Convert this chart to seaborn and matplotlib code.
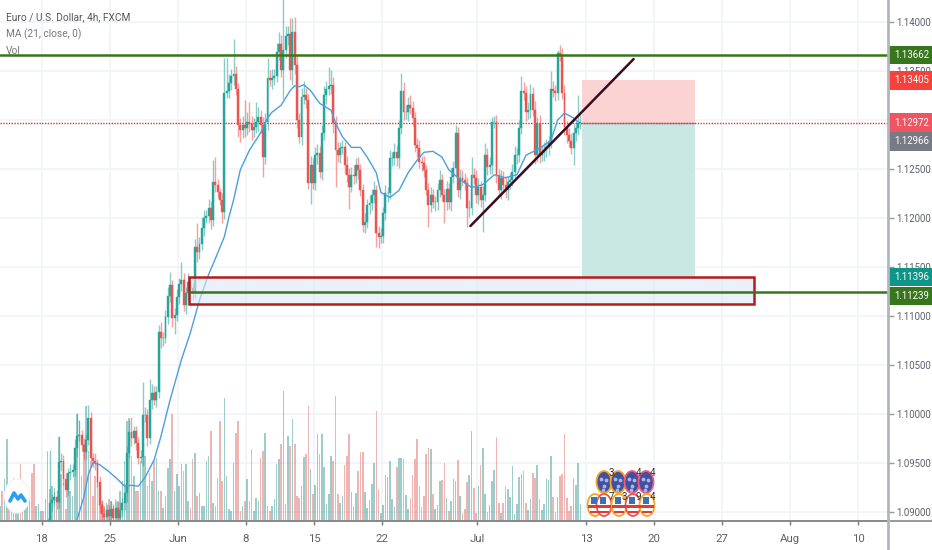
import matplotlib
matplotlib.use('Agg')

import pandas as pd
import seaborn as sns
import matplotlib.pyplot as plt
from matplotlib.patches import Rectangle, Ellipse

# ---------- data: EURUSD 4h ----------
base_price = 1.09  # the pip lists below are pips above this

close_pips = [
    -30, -34, -28, -25, -31, -36, -33, -27, -24, -29,
    -35, -32, -26, -22, -25, -30, -28, -24, -20, -23,
    -19, -14, 9, 12, 15, 10, 51, 52, 33, 22,
    40, 41, 43, 65, 77, 78, 68, 61, 73, 96,
    55, 52, 50, 30, 7, -2, -5, 2, -4, 3,
    -6, 4, -6, 2, 9, 19, 60, 81, 75, 82,
    70, 55, 56, 99, 99, 75, 114, 121, 114, 122,
    183, 177, 177, 199, 220, 231, 198, 201, 219, 233,
    237, 211, 223, 235, 228, 224, 270, 265, 273, 290,
    300, 302, 310, 298, 337, 334, 326, 318, 306, 428,
    430, 438, 445, 447, 432, 395, 390, 395, 392, 398,
    396, 390, 393, 398, 403, 395, 362, 398, 443, 441,
    443, 445, 469, 478, 451, 471, 486, 488, 451, 490,
    456, 400, 383, 423, 425, 420, 336, 354, 336, 364,
    366, 347, 387, 425, 432, 435, 436, 397, 369, 364,
    371, 372, 354, 344, 332, 344, 343, 354, 349, 328,
    293, 296, 313, 315, 323, 328, 285, 280, 282, 305,
    325, 325, 361, 361, 367, 361, 392, 430, 408, 408,
    415, 412, 402, 374, 371, 357, 356, 349, 328, 313,
    323, 316, 316, 328, 339, 323, 316, 330, 316, 342,
    351, 387, 328, 341, 339, 336, 310, 310, 344, 341,
    323, 332, 318, 323, 364, 352, 354, 398, 398, 344,
    328, 341, 334, 328, 337, 339, 347, 364, 364, 392,
    430, 428, 408, 410, 427, 410, 364, 397, 364, 367,
    369, 372, 377, 432, 430, 428, 468, 466, 428, 393,
    385, 379, 371, 387, 392, 397, 398,
]
upper_wick = [
    6, 5, 7, 4, 6, 5, 8, 4, 6, 5,
    7, 4, 6, 5, 8, 5, 6, 4, 7, 5,
    6, 8, 54, 6, 5, 7, 26, 8, 6, 7,
    5, 8, 6, 9, 24, 16, 5, 7, 6, 13,
    6, 5, 8, 4, 6, 5, 7, 6, 5, 8,
    5, 7, 6, 8, 5, 9, 7, 13, 16, 6,
    5, 6, 7, 33, 8, 6, 22, 9, 7, 6,
    8, 11, 6, 7, 9, 14, 6, 7, 8, 6,
    18, 7, 6, 9, 5, 6, 8, 25, 7, 11,
    8, 6, 9, 7, 22, 25, 6, 5, 7, 35,
    33, 9, 7, 36, 8, 6, 7, 9, 25, 10,
    20, 8, 9, 20, 10, 7, 8, 9, 20, 8,
    9, 7, 10, 12, 9, 55, 10, 8, 16, 14,
    15, 9, 7, 10, 15, 8, 7, 9, 7, 8,
    9, 7, 8, 10, 8, 19, 15, 8, 7, 9,
    7, 8, 6, 9, 7, 8, 10, 7, 8, 6,
    7, 9, 6, 8, 7, 10, 6, 7, 8, 6,
    9, 7, 8, 6, 9, 7, 8, 18, 9, 7,
    8, 10, 7, 6, 8, 9, 6, 7, 5, 8,
    9, 7, 6, 8, 10, 6, 7, 8, 6, 9,
    7, 8, 6, 9, 8, 7, 6, 8, 18, 7,
    8, 9, 6, 10, 12, 7, 8, 5, 6, 7,
    6, 8, 7, 9, 6, 7, 8, 9, 7, 8,
    15, 9, 7, 8, 10, 7, 9, 6, 8, 7,
    8, 9, 7, 18, 8, 6, 3, 9, 7, 8,
    6, 7, 8, 9, 7, 29, 8,
]
lower_wick = [
    6, 4, 7, 5, 6, 8, 5, 6, 4, 7,
    5, 8, 6, 4, 7, 5, 6, 8, 5, 6,
    7, 5, 6, 8, 5, 7, 6, 9, 6, 7,
    5, 8, 6, 7, 9, 5, 6, 8, 7, 5,
    9, 6, 7, 5, 8, 6, 7, 5, 9, 6,
    7, 5, 6, 8, 6, 7, 9, 5, 8, 6,
    7, 6, 5, 9, 7, 8, 6, 9, 5, 7,
    6, 10, 8, 5, 7, 6, 9, 17, 6, 7,
    8, 6, 9, 7, 5, 8, 6, 10, 7, 6,
    8, 5, 7, 9, 6, 8, 6, 5, 11, 7,
    6, 8, 7, 9, 6, 12, 12, 8, 9, 7,
    8, 10, 7, 6, 9, 8, 20, 7, 8, 6,
    9, 7, 6, 8, 7, 30, 8, 9, 10, 15,
    9, 8, 7, 9, 7, 8, 6, 22, 7, 8,
    9, 6, 8, 7, 9, 6, 8, 10, 37, 7,
    8, 6, 9, 7, 23, 6, 8, 7, 9, 6,
    7, 8, 6, 9, 7, 8, 15, 11, 6, 8,
    7, 9, 6, 8, 7, 8, 10, 6, 8, 7,
    9, 6, 8, 7, 9, 6, 8, 7, 5, 22,
    7, 6, 9, 8, 7, 6, 21, 8, 7, 9,
    6, 8, 7, 9, 6, 8, 19, 9, 7, 6,
    8, 9, 7, 32, 6, 8, 7, 9, 6, 8,
    7, 9, 6, 8, 10, 7, 6, 8, 9, 7,
    6, 8, 9, 7, 8, 6, 9, 7, 8, 6,
    9, 7, 8, 6, 7, 9, 8, 6, 7, 8,
    9, 7, 6, 17, 8, 7, 6,
]
volume = [
    15, 30, 42, 82, 25, 10, 43, 17, 37, 57,
    20, 25, 15, 27, 48, 57, 15, 17, 10, 10,
    22, 70, 32, 35, 33, 20, 84, 47, 38, 12,
    35, 30, 25, 60, 107, 100, 45, 77, 115, 70,
    60, 25, 45, 55, 35, 20, 15, 18, 22, 20,
    15, 22, 20, 30, 40, 60, 100, 103, 65, 45,
    30, 30, 60, 85, 65, 35, 48, 40, 60, 63,
    30, 30, 13, 25, 53, 62, 107, 30, 47, 35,
    57, 50, 57, 20, 13, 62, 68, 25, 28, 15,
    15, 60, 65, 90, 18, 15, 43, 100, 40, 123,
    45, 12, 10, 58, 88, 100, 10, 15, 20, 42,
    20, 72, 10, 23, 20, 63, 70, 88, 15, 10,
    15, 22, 57, 62, 77, 130, 17, 85, 75, 102,
    77, 25, 23, 35, 64, 67, 115, 52, 27, 36,
    87, 67, 87, 54, 17, 27, 65, 60, 125, 27,
    18, 25, 56, 65, 87, 29, 15, 28, 50, 69,
    69, 29, 13, 21, 37, 58, 110, 32, 8, 16,
    46, 44, 60, 22, 14, 54, 63, 63, 62, 26,
    12, 22, 46, 62, 82, 35, 14, 25, 67, 73,
    72, 27, 12, 16, 40, 41, 58, 23, 10, 20,
    42, 40, 61, 25, 8, 12, 39, 46, 90, 33,
    8, 35, 56, 73, 27, 9, 16, 40, 51, 84,
    18, 8, 18, 35, 32, 24, 55, 7, 17, 44,
    47, 50, 18, 11, 22, 48, 43, 56, 22, 11,
    17, 42, 41, 65, 24, 9, 24, 45, 47, 87,
    23, 10, 15, 43, 36, 58, 17,
]
ma_bar = [
    34, 37, 39, 41, 44, 48, 51, 55, 58, 61, 64, 68, 71, 75, 80, 84, 88, 92,
    96, 99, 101, 103, 106, 110, 115, 118, 120, 124, 128, 130, 132, 134, 137,
    141, 146, 148, 151, 155, 159, 162, 166, 168, 172, 176, 180, 184, 187,
    191, 195, 198, 203, 208, 213, 218, 223, 228, 232, 238, 243, 246, 249,
    253, 255,
]
ma_pips = [
    -8, 15, 38, 50, 48, 41, 35, 26, 27, 26, 35, 53, 77, 114, 155, 183, 216, 242,
    264, 281, 301, 318, 349, 369, 387, 402, 408, 415, 430, 435, 434, 436, 430,
    417, 410, 397, 383, 372, 372, 362, 346, 326, 321, 328, 346, 359, 367,
    368, 362, 349, 339, 331, 334, 344, 341, 344, 364, 371, 379, 400, 407,
    402, 398,
]

price_ticks = [1.09, 1.095, 1.10, 1.105, 1.11, 1.115, 1.12, 1.125, 1.13, 1.135, 1.14]
price_labels = ['1.09000', '1.09500', '1.10000', '1.10500', '1.11000', '1.11500',
                '1.12000', '1.12500', '', '1.13500', '1.14000']  # 1.13000 is under a tag
date_ticks = [18.5, 48.5, 78.5, 108.5, 138.5, 168.5, 210.5, 258.5, 288.5, 318.5, 348.5, 378.5]
date_labels = ['18', '25', 'Jun', '8', '15', '22', 'Jul', '13', '20', '27', 'Aug', '10']

# drawings on the chart
resistance = 1.13662
support = 1.11239
last_price = 1.12972
zone_bars = [83.5, 332.5]
zone_prices = [1.11125, 1.11395]
trade_bars = [256.7, 306.5]
stop_price, entry_price, target_price = 1.13405, 1.12972, 1.11396
trend_bars = [207.5, 279.5]
trend_prices = [1.11917, 1.13622]

# price tags on the right scale
tag_prices = [1.13662, 1.13405, 1.12972, 1.12966, 1.11396, 1.11239]
tag_shift = [0, 0, 0, -0.00185, 0.00002, -0.00035]
tag_colors = ['#38761d', '#f8413a', '#ef5560', '#787b86', '#0f9488', '#38761d']

# ---------- figure ----------
sns.set_theme(style='white')
plt.rcParams['font.family'] = ['Roboto', 'DejaVu Sans']

up_color = '#26a69a'
down_color = '#ef5350'
grid_color = '#f0f3fa'
text_color = '#5d606b'

bars = pd.DataFrame({'bar': range(len(close_pips)), 'close': close_pips,
                     'upper': upper_wick, 'lower': lower_wick, 'volume': volume})
bars['close'] = base_price + bars['close'] / 10000
bars['open'] = bars['close'].shift(1).fillna(bars['close'])
bars['top'] = bars[['open', 'close']].max(axis=1)
bars['bottom'] = bars[['open', 'close']].min(axis=1)
bars['high'] = bars['top'] + bars['upper'] / 10000
bars['low'] = bars['bottom'] - bars['lower'] / 10000
bars['side'] = ['up' if c >= o else 'down' for c, o in zip(bars['close'], bars['open'])]

fig = plt.figure(figsize=(9.32, 5.5), dpi=100)
vol_ax = fig.add_axes([0, 29 / 550, 888 / 932, 521 / 550])
ax = vol_ax.twinx()

# volume bars sit underneath the candles
sns.barplot(data=bars, x='bar', y='volume', hue='side', hue_order=['up', 'down'],
            palette={'up': up_color, 'down': down_color}, native_scale=True, dodge=False,
            width=0.7, alpha=0.48, linewidth=0, legend=False, ax=vol_ax)
vol_ax.set_xlim(0, 888 / 2.267)
vol_ax.set_ylim(0, 521)
vol_ax.set_xlabel('')
vol_ax.set_ylabel('')
vol_ax.set_yticks([])
vol_ax.set_xticks(date_ticks)
vol_ax.set_xticklabels(date_labels, fontsize=8.2, color=text_color)
vol_ax.tick_params(axis='x', length=3, width=1, color='#777777', pad=6, bottom=True)
for t in date_ticks:
    vol_ax.axvline(t, color=grid_color, lw=1.2, zorder=0)
for p in price_ticks:
    vol_ax.axhline((p - 1.08905) * 9794, color=grid_color, lw=1.2, zorder=0)

# candles
ax.set_xlim(0, 888 / 2.267)
ax.set_ylim(1.08905, 1.14225)
colors = [up_color if s == 'up' else down_color for s in bars['side']]
ax.vlines(bars['bar'], bars['low'], bars['high'], colors=colors, lw=1, alpha=0.55, zorder=3)
ax.bar(bars['bar'], bars['top'] - bars['bottom'], bottom=bars['bottom'], width=0.85,
       color=colors, linewidth=0.3, edgecolor=colors, zorder=4)

sns.lineplot(x=ma_bar, y=[base_price + v / 10000 for v in ma_pips], color='#4a9fe0', lw=1,
             errorbar=None, ax=ax, zorder=5)
ax.set_xlabel('')
ax.set_ylabel('')

# position box, zone and lines
ax.add_patch(Rectangle((trade_bars[0], entry_price), trade_bars[1] - trade_bars[0],
                       stop_price - entry_price, fc='#fbd3d3', ec='none', zorder=2))
ax.add_patch(Rectangle((trade_bars[0], target_price), trade_bars[1] - trade_bars[0],
                       entry_price - target_price, fc='#c9e8e4', ec='none', zorder=2))
ax.plot(trade_bars, [entry_price, entry_price], color='#9a9a9a', lw=1, zorder=2)
ax.add_patch(Rectangle((zone_bars[0], zone_prices[0]), zone_bars[1] - zone_bars[0],
                       zone_prices[1] - zone_prices[0], fc=(0.87, 0.91, 0.96, 0.6),
                       ec='#b71c1c', lw=1.8, zorder=6))
ax.plot(zone_bars[:1] + [392], [support, support], color='#38761d', lw=1.8, zorder=7)
ax.plot([0, 392], [resistance, resistance], color='#38761d', lw=1.8, zorder=7)
ax.plot([0, 392], [last_price, last_price], color='#e8302a', lw=1, ls=(0, (1, 1)), zorder=2)
ax.plot(trend_bars, trend_prices, color='#3d0a22', lw=1.8, zorder=7)

# right scale
ax.set_yticks(price_ticks)
ax.set_yticklabels(price_labels, fontsize=6.9, color=text_color)
ax.tick_params(axis='y', length=4, width=1, color='#999999', pad=2, right=True)
ax.tick_params(axis='x', bottom=False, labelbottom=False)
for a in (ax, vol_ax):
    for name in ('top', 'left', 'right'):
        a.spines[name].set_visible(False)
    a.spines['bottom'].set_color('#888888')
    a.spines['bottom'].set_linewidth(1.2)

trans = ax.get_yaxis_transform()
for price, shift, col in zip(tag_prices, tag_shift, tag_colors):
    y = price + shift
    ax.add_patch(Rectangle((1, y - 0.00095), 44 / 888, 0.0019, transform=trans, fc=col,
                           ec='none', clip_on=False, zorder=10))
    ax.text(1 + 6 / 888, y, f'{price:.5f}', transform=trans, va='center', ha='left',
            fontsize=6.9, color='white', clip_on=False, zorder=11)

# overlay in pixel space for legend text and the small icons
over = fig.add_axes([0, 0, 1, 1], facecolor='none')
over.set_xlim(0, 932)
over.set_ylim(550, 0)
over.axis('off')
over.plot([888, 888], [0, 550], color='#b2b5be', lw=2, zorder=9)
over.plot([888, 932], [521, 521], color='#888888', lw=1.2)
over.text(6, 17, 'Euro / U.S. Dollar, 4h, FXCM', fontsize=7.3, color='#555555', va='center')
over.text(6, 34, 'MA (21, close, 0)', fontsize=7.3, color='#777777', va='center')
over.text(6, 51, 'Vol', fontsize=7.3, color='#777777', va='center')

# logo
over.add_patch(Ellipse((17, 496), 25, 34, fc='white', ec='#f2f2f2', lw=0.8, zorder=6))
over.plot([10, 14, 18, 21, 25], [501, 493, 499, 495, 501], color='#2a9df4', lw=2.6, zorder=7)

# economic event icons
for x, ring in zip([604, 618, 632, 646], ['#f5a623', '#f5a623', '#ef5a7a', '#ef5a7a']):
    over.add_patch(Ellipse((x, 482), 15, 22, fc='#3f51a0', ec=ring, lw=1.3, zorder=7))
    over.scatter([x - 3, x + 2, x, x - 1], [479, 480, 486, 490], s=3, color='#aab4e8', zorder=8)
for x, ring in zip([595, 604, 619, 633, 647], ['#f5a623', '#ef5350', '#f5a623', '#ef5350', '#f5a623']):
    over.add_patch(Ellipse((x, 505), 15, 22, fc='white', ec=ring, lw=1.3, zorder=7))
    over.add_patch(Rectangle((x - 7, 505), 14, 3, fc='#e53935', ec='none', zorder=8))
    over.add_patch(Rectangle((x - 5, 511), 10, 2, fc='#e53935', ec='none', zorder=8))
    over.add_patch(Rectangle((x - 4, 497), 6, 7, fc='#3f6fb5', ec='none', zorder=8))
for x, y, label in [(611, 473, '3'), (638, 473, '4'), (652, 473, '4'),
                    (611, 497, '7'), (624, 497, '3'), (638, 497, '9'), (652, 497, '4')]:
    over.text(x, y, label, fontsize=7, color='#333333', ha='center', va='center', zorder=9)

plt.savefig('out.png', dpi=100)
